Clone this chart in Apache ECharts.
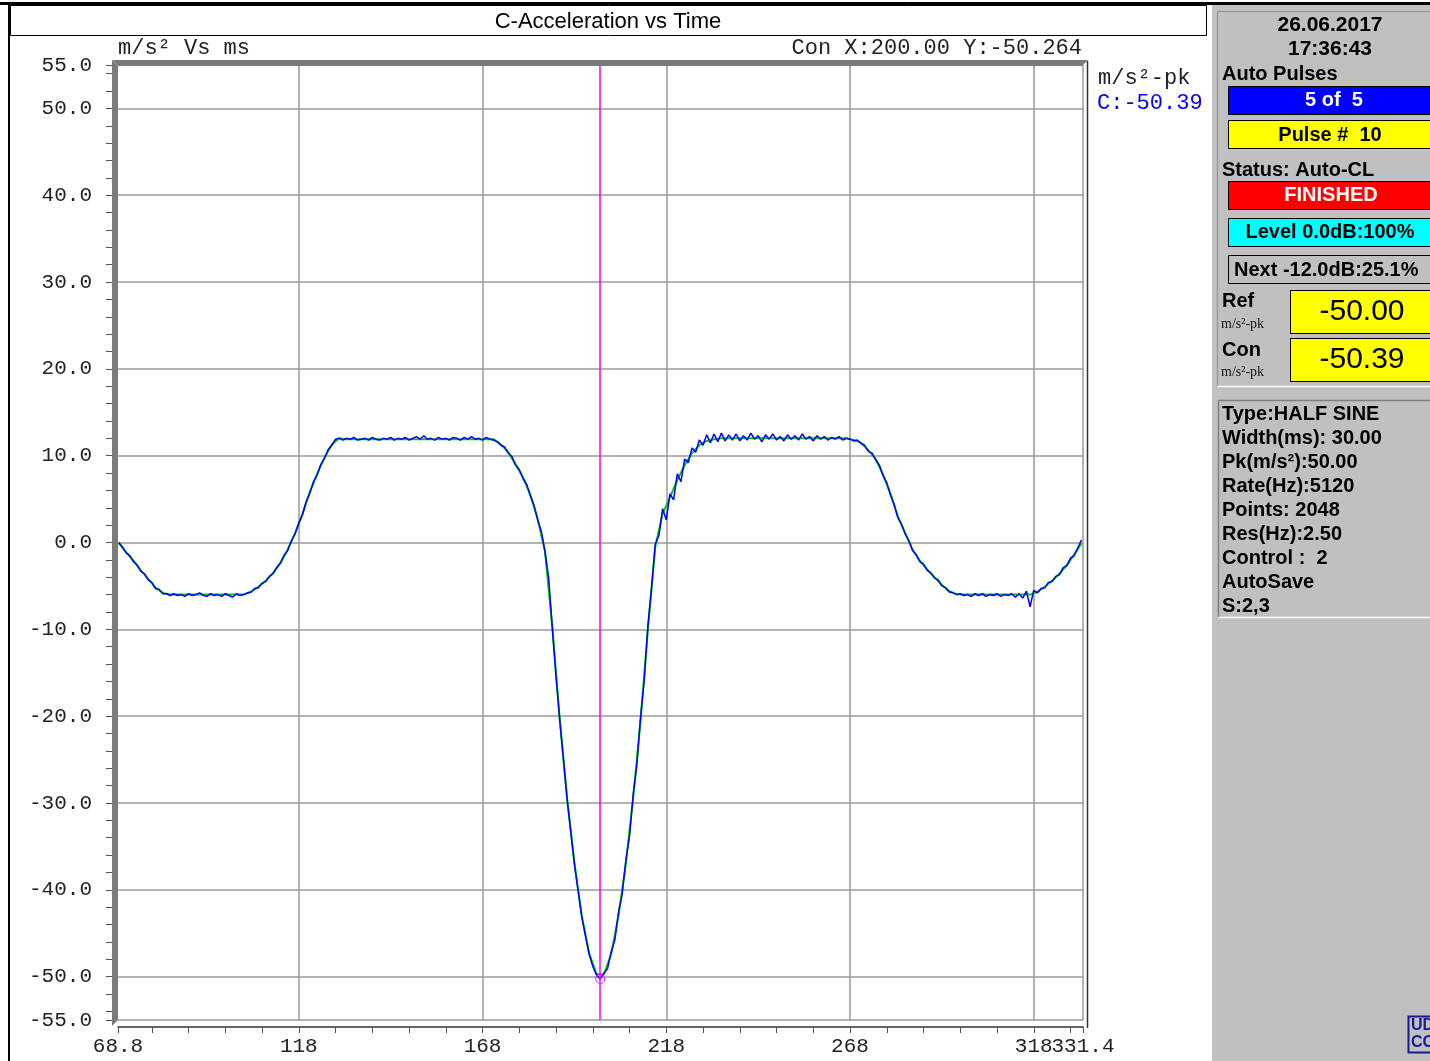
<!DOCTYPE html>
<html>
<head>
<meta charset="utf-8">
<title>C-Acceleration vs Time</title>
<script src="https://cdn.jsdelivr.net/npm/echarts@6/dist/echarts.min.js"></script>
<style>
  html, body { margin: 0; padding: 0; background: #fff; }
  #chart { width: 1430px; height: 1061px; }
</style>
</head>
<body>
<div id="chart"></div>
<script>
// control channel C (blue), one sample per ms starting at 69 ms
const conStart = 69;
const conStep = 1;
const conAccel = [
  0.0, -0.5, -1.2, -1.5, -2.2, -2.6, -3.3, -3.6, -4.3, -4.6,       // 69
  -5.3, -5.4, -5.9, -5.9, -6.1, -5.9, -6.1, -6.0, -6.2, -5.9,      // 79
  -6.1, -6.0, -5.8, -6.1, -6.2, -5.9, -6.1, -6.0, -6.2, -5.9,      // 89
  -6.1, -6.3, -5.9, -6.1, -6.0, -5.8, -5.7, -5.3, -5.2, -4.7,      // 99
  -4.5, -3.9, -3.6, -2.9, -2.4, -1.5, -0.9, 0.2, 1.0, 2.2,         // 109
  3.2, 4.7, 5.7, 7.0, 7.8, 9.0, 9.7, 10.7, 11.2, 11.9,             // 119
  12.0, 11.8, 12.0, 11.9, 12.1, 11.8, 11.9, 12.0, 11.8, 12.1,      // 129
  11.9, 11.8, 12.0, 11.9, 12.1, 11.8, 12.0, 11.9, 12.1, 11.8,      // 139
  12.0, 12.2, 11.9, 12.3, 11.9, 12.0, 11.8, 12.1, 11.9, 12.0,      // 149
  11.8, 12.1, 12.0, 11.8, 12.1, 11.9, 12.2, 11.9, 12.0, 11.8,      // 159
  12.1, 11.9, 11.8, 11.6, 11.2, 11.0, 10.3, 9.9, 8.9, 8.4,         // 169
  7.4, 6.7, 5.4, 4.3, 2.6, 1.3, -1.1, -4.1, -9.9, -15.4,           // 179
  -20.4, -24.9, -29.5, -33.3, -37.0, -40.1, -43.1, -45.3, -47.4, -48.8, // 189
  -49.8, -50.3, -49.6, -49.1, -47.2, -45.8, -42.6, -40.5, -36.6, -33.8, // 199
  -29.0, -25.6, -20.1, -15.9, -9.6, -5.2, -0.2, 0.8, 3.9, 2.6,     // 209
  5.6, 4.9, 7.9, 7.0, 9.6, 9.2, 10.9, 10.4, 11.8, 11.2,            // 219
  12.4, 11.5, 12.5, 11.6, 12.6, 11.7, 12.4, 11.8, 12.5, 11.7,      // 229
  12.3, 11.8, 12.6, 11.9, 12.3, 11.6, 12.4, 11.9, 12.5, 11.8,      // 239
  12.2, 11.7, 12.4, 11.9, 12.3, 11.8, 12.5, 11.9, 12.2, 11.7,      // 249
  12.3, 11.9, 12.2, 11.8, 12.1, 11.9, 12.2, 11.8, 12.0, 11.9,      // 259
  11.7, 11.8, 11.4, 11.2, 10.5, 10.3, 9.5, 8.9, 7.7, 6.9,          // 269
  5.5, 4.4, 2.9, 2.1, 1.0, 0.2, -0.9, -1.4, -2.2, -2.5,            // 279
  -3.2, -3.5, -4.1, -4.3, -5.0, -5.2, -5.7, -5.8, -6.0, -5.9,      // 289
  -6.1, -6.0, -6.2, -5.9, -6.1, -5.9, -6.2, -6.0, -6.1, -5.9,      // 299
  -6.2, -6.0, -6.1, -5.9, -6.3, -5.9, -6.4, -5.6, -7.4, -5.5,      // 309
  -5.8, -5.3, -5.2, -4.6, -4.5, -3.9, -3.7, -2.9, -2.7, -1.8,      // 319
  -1.5, -0.6, 0.3                                                  // 329
];

// reference profile (green), every 2 ms starting at 69 ms
const refStart = 69;
const refStep = 2;
const refAccel = [
  -0.1, -1.1, -2.1, -3.2, -4.2, -5.2, -5.8, -6.0, -6.0, -6.0,      // 69
  -6.0, -6.0, -6.0, -6.0, -6.0, -6.0, -6.0, -6.0, -5.7, -5.1,      // 89
  -4.4, -3.5, -2.3, -0.8, 1.1, 3.3, 5.8, 7.9, 9.8, 11.3,           // 109
  12.0, 11.9, 11.9, 11.9, 11.9, 11.9, 11.9, 11.9, 11.9, 11.9,      // 129
  11.9, 11.9, 11.9, 11.9, 11.9, 11.9, 11.9, 11.9, 11.9, 11.9,      // 149
  11.9, 11.9, 11.3, 10.4, 9.0, 7.5, 5.5, 2.7, -1.0, -9.8,          // 169
  -20.3, -29.4, -36.9, -43.0, -47.3, -49.7, -49.8, -47.4, -43.0, -37.0, // 189
  -29.4, -20.5, -10.0, -0.5, 3.3, 5.2, 7.2, 8.9, 10.3, 11.2,       // 209
  11.7, 11.9, 12.0, 12.0, 12.0, 12.0, 12.0, 12.0, 12.0, 12.0,      // 229
  12.0, 12.0, 12.0, 12.0, 12.0, 12.0, 12.0, 12.0, 12.0, 12.0,      // 249
  11.8, 11.5, 10.6, 9.6, 7.8, 5.6, 3.0, 1.1, -0.8, -2.1,           // 269
  -3.1, -4.0, -4.9, -5.6, -5.95, -6.0, -6.0, -6.0, -6.0, -6.0,     // 289
  -6.0, -6.0, -6.0, -6.0, -6.0, -5.7, -5.1, -4.4, -3.6, -2.6,      // 309
  -1.4, -0.1                                                       // 329
];

const xMin = 68.8, xMax = 331.4;
const yMin = -55, yMax = 55;
const xLabelVals = [68.8, 118, 168, 218, 268, 318];
const xEndLabel = [331.4];
const xGridVals = [118, 168, 218, 268, 318, 331.4];
const yLabelVals = [55, 50, 40, 30, 20, 10, 0, -10, -20, -30, -40, -50, -55];
const yGridVals = [50, 40, 30, 20, 10, 0, -10, -20, -30, -40, -50, -55];
const cursorX = 200.0, cursorY = -50.264;

const infoLines = ['Type:HALF SINE', 'Width(ms): 30.00', 'Pk(m/s\u00b2):50.00', 'Rate(Hz):5120',
  'Points: 2048', 'Res(Hz):2.50', 'Control :  2', 'AutoSave', 'S:2,3'];

// minor tick positions
const xTickVals = [xMin];
for (let v = 78; v < xMax; v += 10) xTickVals.push(v);
xTickVals.push(xMax);
const yTickVals = [yMin];
for (let v = -54; v <= 54; v += 2) yTickVals.push(v);
yTickVals.push(yMax);

const conData = conAccel.map((v, i) => [conStart + i * conStep, v]);
const refData = refAccel.map((v, i) => [refStart + i * refStep, v]);

const MONO = '22px "Liberation Mono"';
const BOLD = 'bold 20px "Liberation Sans"';
const axisFont = { color: '#222', fontFamily: 'Liberation Mono', fontSize: 21 };

function txt(x, y, text, font, color, align) {
  align = align || 'left';
  return {
    type: 'text', z: 100, silent: true,
    style: { text: text, x: x, y: y, font: font, fill: color || '#000',
      textAlign: align, align: align, textVerticalAlign: 'middle', verticalAlign: 'middle' }
  };
}
function rect(x, y, w, h, fill, stroke, lw) {
  return { type: 'rect', z: 90, silent: true, shape: { x: x, y: y, width: w, height: h },
    style: { fill: fill || 'none', stroke: stroke || 'none', lineWidth: lw || 1 } };
}
function line(x1, y1, x2, y2, color, lw) {
  return { type: 'line', z: 95, silent: true, shape: { x1: x1, y1: y1, x2: x2, y2: y2 },
    style: { stroke: color, lineWidth: lw || 1 } };
}

const graphics = [
  // outer frame and title box
  rect(0, 2, 1430, 3, '#000'),
  line(9, 3, 9, 1061, '#000', 2),
  rect(10.5, 5.5, 1196, 30, '#fff', '#000', 1),
  txt(608, 22, 'C-Acceleration vs Time', '22px "Liberation Sans"', '#000', 'center'),
  txt(118, 48, 'm/s\u00b2 Vs ms', MONO, '#222'),
  txt(1082, 48, 'Con X:200.00 Y:-50.264', MONO, '#222', 'right'),
  txt(1098, 78, 'm/s\u00b2-pk', MONO, '#222'),
  txt(1097, 103, 'C:-50.39', MONO, '#0000ff'),
  // sunken plot frame
  { type: 'polygon', z: 92, silent: true, shape: { points: [[112, 60], [1088, 60], [1082, 66], [118, 66]] }, style: { fill: '#7b7b7b' } },
  { type: 'polygon', z: 92, silent: true, shape: { points: [[112, 60], [118, 66], [118, 1020], [112, 1026]] }, style: { fill: '#7b7b7b' } },
  line(1087.5, 61, 1087.5, 1028, '#333', 1.5),
  // right status panel
  rect(1212, 5, 218, 1056, '#c0c0c0'),
  line(1217.5, 386, 1217.5, 11.5, '#9a9a9a', 1.5),
  line(1217.5, 11.5, 1430, 11.5, '#9a9a9a', 1.5),
  line(1217.5, 386.5, 1430, 386.5, '#fff', 1.5),
  line(1218.5, 617, 1218.5, 400.5, '#808080', 1.5),
  line(1218.5, 400.5, 1430, 400.5, '#808080', 1.5),
  line(1218.5, 617.5, 1430, 617.5, '#fff', 1.5),
  txt(1330, 25, '26.06.2017', 'bold 21px "Liberation Sans"', '#000', 'center'),
  txt(1330, 49, '17:36:43', 'bold 21px "Liberation Sans"', '#000', 'center'),
  txt(1222, 74, 'Auto Pulses', BOLD),
  rect(1228.5, 86.5, 210, 28, '#0000ff', '#000', 1),
  txt(1334, 100, '5 of  5', BOLD, '#fff', 'center'),
  rect(1228.5, 120.5, 210, 28, '#ffff00', '#000', 1),
  txt(1330, 135, 'Pulse #  10', BOLD, '#000', 'center'),
  txt(1222, 170, 'Status: Auto-CL', BOLD),
  rect(1228.5, 181.5, 210, 28, '#ff0000', '#000', 1),
  txt(1331, 195, 'FINISHED', BOLD, '#fff', 'center'),
  rect(1228.5, 218.5, 210, 28, '#00ffff', '#000', 1),
  txt(1330, 232, 'Level 0.0dB:100%', BOLD, '#000', 'center'),
  rect(1228.5, 255.5, 210, 28, '#c0c0c0', '#000', 1),
  txt(1234, 270, 'Next -12.0dB:25.1%', BOLD),
  txt(1222, 301, 'Ref', BOLD),
  txt(1221, 324, 'm/s\u00b2-pk', '14px "Liberation Serif"', '#111'),
  rect(1290.5, 290.5, 150, 43, '#ffff00', '#000', 1),
  txt(1362, 312, '-50.00', '30px "Liberation Sans"', '#000', 'center'),
  txt(1222, 350, 'Con', BOLD),
  txt(1221, 372, 'm/s\u00b2-pk', '14px "Liberation Serif"', '#111'),
  rect(1290.5, 338.5, 150, 43, '#ffff00', '#000', 1),
  txt(1362, 360, '-50.39', '30px "Liberation Sans"', '#000', 'center'),
  // corner logo
  rect(1408.5, 1016.5, 30, 36, '#c0c0c0', '#1a1a8c', 2),
  txt(1411, 1026, 'UD', 'bold 16px "Liberation Sans"', '#1a1a8c'),
  txt(1411, 1043, 'CO', 'bold 16px "Liberation Sans"', '#1a1a8c')
];
infoLines.forEach((s, i) => graphics.push(txt(1222, 414 + i * 24, s, BOLD)));

const chart = echarts.init(document.getElementById('chart'));
chart.setOption({
  animation: false,
  backgroundColor: '#fff',
  grid: { left: 118, top: 65, width: 965, height: 955, outerBoundsMode: 'none', show: false },
  xAxis: [
    {
      type: 'value', min: xMin, max: xMax, position: 'bottom', offset: 7,
      axisLine: { show: true, onZero: false, lineStyle: { color: '#333', width: 1.5 } },
      axisTick: { show: true, length: 6, customValues: xTickVals, lineStyle: { color: '#555', width: 1 } },
      axisLabel: Object.assign({ customValues: xLabelVals, margin: 9, hideOverlap: false,
        formatter: v => String(v) }, axisFont),
      splitLine: { show: false }
    },
    {
      // vertical grid lines plus the end label that sits right against "318"
      type: 'value', min: xMin, max: xMax, position: 'bottom', offset: 7,
      axisLine: { show: false, onZero: false },
      axisTick: { show: false, customValues: xGridVals },
      axisLabel: Object.assign({ customValues: xEndLabel, margin: 9, hideOverlap: false,
        formatter: v => String(v) }, axisFont),
      splitLine: { show: true, lineStyle: { color: '#9a9a9a', width: 1.5 } }
    }
  ],
  yAxis: [
    {
      type: 'value', min: yMin, max: yMax, position: 'left', offset: 5,
      axisLine: { show: false, onZero: false },
      axisTick: { show: true, length: 7, customValues: yTickVals, lineStyle: { color: '#555', width: 1 } },
      axisLabel: Object.assign({ customValues: yLabelVals, margin: 21, hideOverlap: false,
        formatter: v => v.toFixed(1) }, axisFont),
      splitLine: { show: false }
    },
    {
      type: 'value', min: yMin, max: yMax, position: 'right',
      axisLine: { show: false, onZero: false }, axisLabel: { show: false },
      axisTick: { show: false, customValues: yGridVals },
      splitLine: { show: true, lineStyle: { color: '#9a9a9a', width: 1.5 } }
    }
  ],
  series: [
    {
      name: 'Ref', type: 'line', data: refData, showSymbol: false, silent: true, z: 2,
      lineStyle: { color: '#00cc00', width: 2 }
    },
    {
      name: 'Con', type: 'line', data: conData, showSymbol: false, silent: true, z: 3,
      lineStyle: { color: '#0000ff', width: 1.5 },
      markLine: {
        silent: true, symbol: ['none', 'none'], label: { show: false },
        lineStyle: { color: '#ff00ff', width: 1.5, type: 'solid' },
        data: [{ xAxis: cursorX }]
      }
    },
    {
      name: 'Cursor', type: 'scatter', data: [[cursorX, cursorY]], silent: true, z: 4,
      symbol: 'circle', symbolSize: 9,
      itemStyle: { color: 'rgba(0,0,0,0)', borderColor: '#ff00ff', borderWidth: 1.2 }
    }
  ],
  graphic: { elements: graphics }
});
</script>
</body>
</html>
